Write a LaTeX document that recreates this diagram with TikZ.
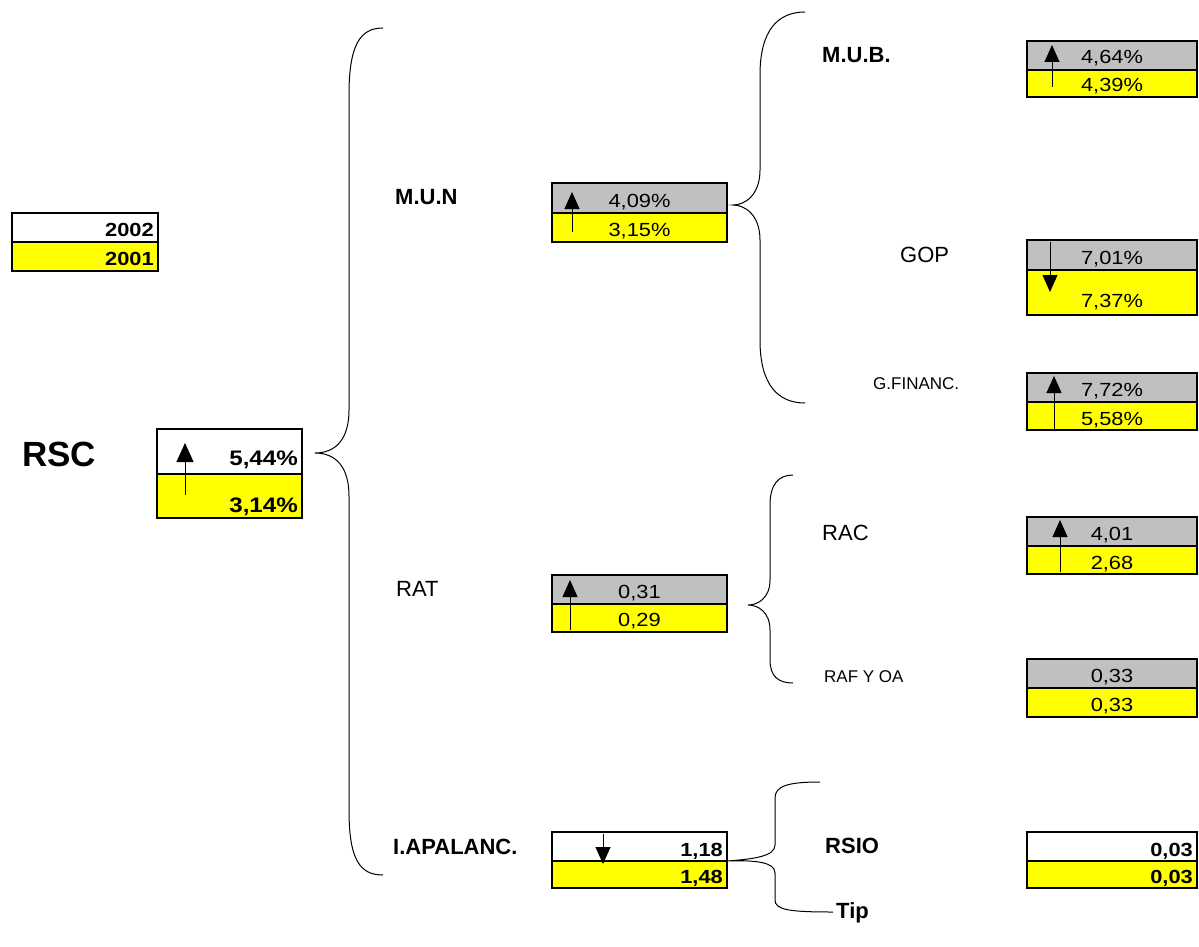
\documentclass[tikz,border=0pt]{standalone}
\usepackage{fontspec}
\setmainfont{Liberation Sans}
\newfontfamily\valfont[FakeStretch=1.15]{Liberation Sans}
\usetikzlibrary{arrows.meta}
\newcommand\myfs[1]{\fontsize{#1}{#1}\selectfont}
\definecolor{cgray}{RGB}{192,192,192}
\definecolor{cyel}{RGB}{255,255,0}
\tikzset{
  cell/.style={draw, line width=2.4pt, anchor=north west, inner sep=0pt, outer sep=0pt},
  valc/.style={font=\valfont\myfs{19}, anchor=base, inner sep=0pt},
  valr/.style={font=\valfont\bfseries\myfs{19}, anchor=base east, inner sep=0pt},
  lbl/.style={anchor=base west, inner sep=0pt, font=\myfs{22}},
  blbl/.style={anchor=base west, inner sep=0pt, font=\bfseries\myfs{22}},
  slbl/.style={anchor=base west, inner sep=0pt, font=\myfs{17}},
  trend/.style={-{Triangle[width=15pt,length=17pt]}, line width=1pt},
  brace/.style={line width=1pt},
}
\begin{document}
\begin{tikzpicture}[x=1pt,y=-1pt]
\useasboundingbox (0,0) rectangle (1199,947);
% ---------- legend
\node[cell, fill=white, minimum width=146pt, minimum height=29pt] (legT) at (12,213) {};
\node[cell, fill=cyel, minimum width=146pt, minimum height=29pt] (legB) at (12,242) {};
\node[valr] (legTt) at ([xshift=-4pt,yshift=6pt]legT.south east) {2002};
\node[valr] (legBt) at ([xshift=-4pt,yshift=6pt]legB.south east) {2001};
% ---------- RSC
\node[anchor=base west, inner sep=0pt, font=\bfseries\myfs{35}] (rsc) at (22,466) {RSC};
\node[cell, fill=white, minimum width=145pt, minimum height=45pt] (rscT) at (157,429) {};
\node[cell, fill=cyel, minimum width=145pt, minimum height=44pt] (rscB) at (157,474) {};
\node[valr, font=\valfont\bfseries\myfs{21}] (rscTt) at ([xshift=-4pt,yshift=9pt]rscT.south east) {5,44\%};
\node[valr, font=\valfont\bfseries\myfs{21}] (rscBt) at ([xshift=-4pt,yshift=6pt]rscB.south east) {3,14\%};
\draw[trend, -{Triangle[width=17pt,length=19pt]}] ([shift={(28,-23)}]rscB.south west) -- ([shift={(28,14)}]rscT.north west);
% ---------- M.U.N
\node[blbl] (munL) at (395,204) {M.U.N};
\node[cell, fill=cgray, minimum width=175pt, minimum height=30pt] (munT) at (552,183) {};
\node[cell, fill=cyel, minimum width=175pt, minimum height=29pt] (munB) at (552,213) {};
\node[valc] (munTt) at ([yshift=6pt]munT.south) {4,09\%};
\node[valc] (munBt) at ([yshift=6pt]munB.south) {3,15\%};
\draw[trend] ([shift={(20,-10)}]munB.south west) -- ([shift={(20,9)}]munT.north west);
% ---------- RAT
\node[lbl] (ratL) at (396,596) {RAT};
\node[cell, fill=cgray, minimum width=175pt, minimum height=29pt] (ratT) at (552,575) {};
\node[cell, fill=cyel, minimum width=175pt, minimum height=28pt] (ratB) at (552,604) {};
\node[valc] (ratTt) at ([yshift=6pt]ratT.south) {0,31};
\node[valc] (ratBt) at ([yshift=6pt]ratB.south) {0,29};
\draw[trend] ([shift={(18,-2)}]ratB.south west) -- ([shift={(18,5)}]ratT.north west);
% ---------- I.APALANC.
\node[blbl] (iapL) at (393,854) {I.APALANC.};
\node[cell, fill=white, minimum width=175pt, minimum height=29pt] (iapT) at (552,832) {};
\node[cell, fill=cyel, minimum width=175pt, minimum height=27pt] (iapB) at (552,861) {};
\node[valr] (iapTt) at ([xshift=-4pt,yshift=5pt]iapT.south east) {1,18};
\node[valr] (iapBt) at ([xshift=-4pt,yshift=5pt]iapB.south east) {1,48};
\draw[trend] ([shift={(51,2)}]iapT.north west) -- ([shift={(51,3)}]iapB.north west);
% ---------- M.U.B.
\node[blbl] (mubL) at (822,63) {M.U.B.};
\node[cell, fill=cgray, minimum width=170pt, minimum height=29pt] (mubT) at (1027,41) {};
\node[cell, fill=cyel, minimum width=170pt, minimum height=27pt] (mubB) at (1027,70) {};
\node[valc] (mubTt) at ([yshift=6pt]mubT.south) {4,64\%};
\node[valc] (mubBt) at ([yshift=5pt]mubB.south) {4,39\%};
\draw[trend] ([shift={(25,-10)}]mubB.south west) -- ([shift={(25,4)}]mubT.north west);
% ---------- GOP
\node[lbl] (gopL) at (900,262) {GOP};
\node[cell, fill=cgray, minimum width=170pt, minimum height=30pt] (gopT) at (1027,240) {};
\node[cell, fill=cyel, minimum width=170pt, minimum height=45pt] (gopB) at (1027,270) {};
\node[valc] (gopTt) at ([yshift=6pt]gopT.south) {7,01\%};
\node[valc] (gopBt) at ([yshift=8pt]gopB.south) {7,37\%};
\draw[trend] ([shift={(23,2)}]gopT.north west) -- ([shift={(23,22)}]gopB.north west);
% ---------- G.FINANC.
\node[slbl] (gfiL) at (873,389) {G.FINANC.};
\node[cell, fill=cgray, minimum width=170pt, minimum height=29pt] (gfiT) at (1027,373) {};
\node[cell, fill=cyel, minimum width=170pt, minimum height=28pt] (gfiB) at (1027,402) {};
\node[valc] (gfiTt) at ([yshift=6pt]gfiT.south) {7,72\%};
\node[valc] (gfiBt) at ([yshift=5pt]gfiB.south) {5,58\%};
\draw[trend] ([shift={(27,0)}]gfiB.south west) -- ([shift={(27,3)}]gfiT.north west);
% ---------- RAC
\node[lbl] (racL) at (822,540) {RAC};
\node[cell, fill=cgray, minimum width=170pt, minimum height=29pt] (racT) at (1027,517) {};
\node[cell, fill=cyel, minimum width=170pt, minimum height=28pt] (racB) at (1027,546) {};
\node[valc] (racTt) at ([yshift=6pt]racT.south) {4,01};
\node[valc] (racBt) at ([yshift=5pt]racB.south) {2,68};
\draw[trend] ([shift={(33,-2)}]racB.south west) -- ([shift={(33,3)}]racT.north west);
% ---------- RAF Y OA
\node[slbl] (rafL) at (824,682) {RAF Y OA};
\node[cell, fill=cgray, minimum width=170pt, minimum height=29pt] (rafT) at (1027,659) {};
\node[cell, fill=cyel, minimum width=170pt, minimum height=29pt] (rafB) at (1027,688) {};
\node[valc] (rafTt) at ([yshift=6pt]rafT.south) {0,33};
\node[valc] (rafBt) at ([yshift=6pt]rafB.south) {0,33};
% ---------- RSIO / Tip
\node[blbl] (rsioL) at (825,853) {RSIO};
\node[cell, fill=white, minimum width=170pt, minimum height=29pt] (rsiT) at (1027,832) {};
\node[cell, fill=cyel, minimum width=170pt, minimum height=27pt] (rsiB) at (1027,861) {};
\node[valr] (rsiTt) at ([xshift=-4pt,yshift=5pt]rsiT.south east) {0,03};
\node[valr] (rsiBt) at ([xshift=-4pt,yshift=5pt]rsiB.south east) {0,03};
\node[blbl] (tipL) at (836,918) {Tip};
% ---------- braces
\coordinate (b1tip) at (315,453);
\draw[brace] (383,28) .. controls (360,28) and (349,45) .. (349,95) -- (349,410)
  .. controls (349,440) and (335,453) .. (b1tip)
  .. controls (335,453) and (349,466) .. (349,496) -- (349,810)
  .. controls (349,860) and (360,875) .. (383,875);
\coordinate (b2tip) at (733,205);
\draw[brace] (805,12) .. controls (778,12) and (760,30) .. (760,75) -- (760,170)
  .. controls (760,195) and (745,205) .. (b2tip)
  .. controls (745,205) and (760,215) .. (760,240) -- (760,340)
  .. controls (760,385) and (778,403) .. (805,403);
\coordinate (b3tip) at (748,605);
\draw[brace] (793,475) .. controls (778,475) and (770,485) .. (770,505) -- (770,580)
  .. controls (770,598) and (758,605) .. (b3tip)
  .. controls (758,605) and (770,612) .. (770,630) -- (770,660)
  .. controls (770,676) and (778,683) .. (793,683);
\coordinate (b4tip) at (iapT.south east);
\draw[brace] (820,782) .. controls (788,782) and (775,786) .. (775,798) -- (775,845)
  .. controls (775,856) and (755,859) .. (b4tip)
  .. controls (755,860) and (775,862) .. (775,873) -- (775,900)
  .. controls (775,910) and (790,912) .. (833,912);
\end{tikzpicture}
\end{document}
